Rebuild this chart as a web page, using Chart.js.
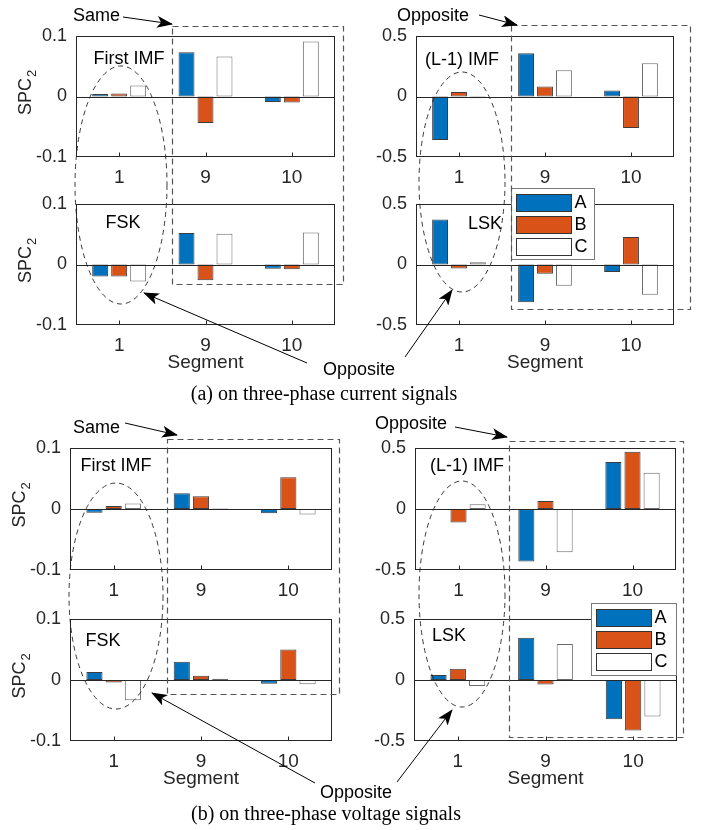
<!DOCTYPE html>
<html>
<head>
<meta charset="utf-8">
<script src="https://cdn.jsdelivr.net/npm/chart.js@4.4.1/dist/chart.umd.min.js"></script>
<style>
  body { margin: 0; background: #fff; }
  #page { position: relative; width: 704px; height: 830px; overflow: hidden; background: #fff; }
  #page canvas { position: absolute; }
  #notes { position: absolute; left: 0; top: 0; pointer-events: none; }
  #notes text { font-family: 'Liberation Sans', Arial, sans-serif; font-size: 18px; fill: #000; }
  #notes text.cap { font-family: 'Liberation Serif', 'Times New Roman', serif; font-size: 20px; }
</style>
</head>
<body>
<div id="page">
  <canvas id="c1"></canvas><canvas id="c2"></canvas>
  <canvas id="c3"></canvas><canvas id="c4"></canvas>
  <canvas id="c5"></canvas><canvas id="c6"></canvas>
  <canvas id="c7"></canvas><canvas id="c8"></canvas>
  <svg id="notes" width="704" height="830">
    <defs>
      <marker id="head" markerWidth="16" markerHeight="12" refX="15" refY="6" orient="auto" markerUnits="userSpaceOnUse">
        <path d="M0,0 L16,6 L0,12 L4,6 Z" fill="#000"/>
      </marker>
    </defs>
    <g fill="none">
      <!-- (a) current -->
      <rect x="172.5" y="26.5" width="171" height="258" stroke="#555" stroke-width="1.2" stroke-dasharray="6,4"/>
      <rect x="511.5" y="25.5" width="179" height="284" stroke="#555" stroke-width="1.2" stroke-dasharray="6,4"/>
      <ellipse cx="121" cy="185" rx="46" ry="119" stroke="#222" stroke-width="0.9" stroke-dasharray="5,4"/>
      <ellipse cx="462" cy="182" rx="43" ry="110" stroke="#222" stroke-width="0.9" stroke-dasharray="5,4"/>
      <line x1="123" y1="17" x2="172" y2="24" stroke="#000" stroke-width="1" marker-end="url(#head)"/>
      <line x1="479" y1="15" x2="517" y2="25" stroke="#000" stroke-width="1" marker-end="url(#head)"/>
      <line x1="307" y1="363" x2="144" y2="293" stroke="#000" stroke-width="1" marker-end="url(#head)"/>
      <line x1="405" y1="357" x2="452" y2="290" stroke="#000" stroke-width="1" marker-end="url(#head)"/>
      <!-- (b) voltage -->
      <rect x="167.5" y="439.5" width="172" height="255" stroke="#555" stroke-width="1.2" stroke-dasharray="6,4"/>
      <rect x="509.5" y="441.5" width="174" height="296" stroke="#555" stroke-width="1.2" stroke-dasharray="6,4"/>
      <ellipse cx="116" cy="596" rx="47" ry="113" stroke="#222" stroke-width="0.9" stroke-dasharray="5,4"/>
      <ellipse cx="462" cy="594" rx="43" ry="113" stroke="#222" stroke-width="0.9" stroke-dasharray="5,4"/>
      <line x1="125" y1="423" x2="177" y2="435" stroke="#000" stroke-width="1" marker-end="url(#head)"/>
      <line x1="455" y1="427" x2="507" y2="437" stroke="#000" stroke-width="1" marker-end="url(#head)"/>
      <line x1="315" y1="783" x2="152" y2="693" stroke="#000" stroke-width="1" marker-end="url(#head)"/>
      <line x1="397" y1="782" x2="452" y2="710" stroke="#000" stroke-width="1" marker-end="url(#head)"/>
    </g>
    <text x="73" y="21">Same</text>
    <text x="397" y="21">Opposite</text>
    <text x="323" y="375">Opposite</text>
    <text class="cap" x="324" y="400" text-anchor="middle">(a) on three-phase current signals</text>
    <text x="73" y="433">Same</text>
    <text x="375" y="429">Opposite</text>
    <text x="320" y="798">Opposite</text>
    <text class="cap" x="326" y="820" text-anchor="middle">(b) on three-phase voltage signals</text>
  </svg>
</div>
<script>
const segments = ['1', '9', '10'];
const phases = ['A', 'B', 'C'];
const smallTicks = [-0.1, 0, 0.1];
const largeTicks = [-0.5, 0, 0.5];

// (a) three-phase current
const curFirstA = [0.004, 0.073, -0.009];
const curFirstB = [0.005, -0.044, -0.010];
const curFirstC = [0.018, 0.066, 0.091];

const curL1A = [-0.360, 0.357, 0.049];
const curL1B = [0.038, 0.082, -0.261];
const curL1C = [-0.014, 0.217, 0.275];

const curFskA = [-0.020, 0.052, -0.007];
const curFskB = [-0.020, -0.026, -0.008];
const curFskC = [-0.028, 0.051, 0.053];

const curLskA = [0.372, -0.311, -0.063];
const curLskB = [-0.033, -0.077, 0.227];
const curLskC = [0.019, -0.175, -0.249];

// (b) three-phase voltage
const volFirstA = [-0.006, 0.026, -0.007];
const volFirstB = [0.005, 0.021, 0.052];
const volFirstC = [0.009, 0.001, -0.009];

const volL1A = [-0.004, -0.431, 0.385];
const volL1B = [-0.110, 0.066, 0.470];
const volL1C = [0.038, -0.354, 0.297];

const volFskA = [0.013, 0.030, -0.006];
const volFskB = [-0.004, 0.007, 0.050];
const volFskC = [-0.033, 0.002, -0.007];

const volLskA = [0.041, 0.347, -0.322];
const volLskB = [0.093, -0.036, -0.413];
const volLskC = [-0.049, 0.295, -0.300];

const fill = ['#0072BD', '#D95319', '#FFFFFF'];
const edge = ['#3c3c3c', '#3c3c3c', '#6a6a6a'];
const sans = "'Liberation Sans', Arial, sans-serif";
const ink = '#262626';

// left, top, width, height of each canvas; label offset from chart area
const panels = [
  { id: 'c1', box: [14, 16, 327, 176], series: [curFirstA, curFirstB, curFirstC], ticks: smallTicks, label: 'First IMF', lx: 53, ly: 23, ytitle: true },
  { id: 'c2', box: [354, 16, 326, 176], series: [curL1A, curL1B, curL1C], ticks: largeTicks, label: '(L-1) IMF', lx: 46, ly: 24 },
  { id: 'c3', box: [14, 184, 327, 190], series: [curFskA, curFskB, curFskC], ticks: smallTicks, label: 'FSK', lx: 47, ly: 19, ytitle: true, seg: true },
  { id: 'c4', box: [354, 184, 326, 190], series: [curLskA, curLskB, curLskC], ticks: largeTicks, label: 'LSK', lx: 69, ly: 20, seg: true, legend: [95, -16, 83, 71] },
  { id: 'c5', box: [8, 428, 330, 177], series: [volFirstA, volFirstB, volFirstC], ticks: smallTicks, label: 'First IMF', lx: 46, ly: 18, ytitle: true },
  { id: 'c6', box: [353, 428, 329, 177], series: [volL1A, volL1B, volL1C], ticks: largeTicks, label: '(L-1) IMF', lx: 52, ly: 18 },
  { id: 'c7', box: [8, 599, 330, 191], series: [volFskA, volFskB, volFskC], ticks: smallTicks, label: 'FSK', lx: 33, ly: 22, ytitle: true, seg: true },
  { id: 'c8', box: [352, 599, 331, 191], series: [volLskA, volLskB, volLskC], ticks: largeTicks, label: 'LSK', lx: 35, ly: 17, seg: true, legend: [177, -16, 85, 72] }
];

const decor = {
  id: 'decor',
  afterDatasetsDraw(chart, args, opts) {
    const { ctx, chartArea: a, scales } = chart;
    const l = Math.round(a.left) + 0.5, t = Math.round(a.top) + 0.5;
    const r = Math.round(a.right) - 0.5, b = Math.round(a.bottom) - 0.5;
    ctx.save();
    ctx.strokeStyle = ink;
    ctx.lineWidth = 1;
    // zero baseline
    const y0 = Math.round(scales.y.getPixelForValue(0)) + 0.5;
    ctx.beginPath(); ctx.moveTo(l, y0); ctx.lineTo(r, y0); ctx.stroke();
    ctx.strokeRect(l, t, r - l, b - t);
    // inner tick marks on the segment axis
    scales.x.ticks.forEach((tk, i) => {
      const x = Math.round(scales.x.getPixelForTick(i)) + 0.5;
      ctx.beginPath(); ctx.moveTo(x, b); ctx.lineTo(x, b - 4); ctx.stroke();
    });
    ctx.restore();
  },
  afterDraw(chart, args, opts) {
    const { ctx, chartArea: a } = chart;
    const p = opts.panel;
    ctx.save();
    ctx.fillStyle = '#000';
    ctx.font = '18px ' + sans;
    ctx.textAlign = 'center';
    ctx.textBaseline = 'middle';
    ctx.fillText(p.label, a.left + p.lx, a.top + p.ly);
    if (p.ytitle) {
      ctx.save();
      ctx.translate(a.left - 50, (a.top + a.bottom) / 2);
      ctx.rotate(-Math.PI / 2);
      ctx.fillStyle = ink;
      ctx.font = '18px ' + sans;
      ctx.fillText('SPC', 0, 0);
      const w = ctx.measureText('SPC').width;
      ctx.font = '13px ' + sans;
      ctx.textAlign = 'left';
      ctx.fillText('2', w / 2 + 1, 6);
      ctx.restore();
    }
    if (p.legend) {
      const [ox, oy, lw, lh] = p.legend;
      const x = Math.round(a.left + ox) + 0.5, y = Math.round(a.top + oy) + 0.5;
      ctx.fillStyle = '#fff';
      ctx.fillRect(x, y, lw, lh);
      ctx.strokeStyle = '#7a7a7a';
      ctx.lineWidth = 1;
      ctx.strokeRect(x, y, lw, lh);
      chart.data.datasets.forEach((ds, i) => {
        const ry = y + 6 + i * 22;
        ctx.fillStyle = ds.backgroundColor;
        ctx.fillRect(x + 5, ry, 55, 17);
        ctx.strokeStyle = '#333';
        ctx.strokeRect(x + 5, ry, 55, 17);
        ctx.fillStyle = '#000';
        ctx.font = '18px ' + sans;
        ctx.textAlign = 'left';
        ctx.textBaseline = 'middle';
        ctx.fillText(ds.label, x + 63, ry + 9);
      });
    }
    ctx.restore();
  }
};

panels.forEach(p => {
  const cv = document.getElementById(p.id);
  const [left, top, w, h] = p.box;
  cv.width = w; cv.height = h;
  cv.style.left = left + 'px'; cv.style.top = top + 'px';
  cv.style.width = w + 'px'; cv.style.height = h + 'px';

  new Chart(cv.getContext('2d'), {
    type: 'bar',
    data: {
      labels: segments,
      datasets: phases.map((ph, i) => ({
        label: ph,
        data: p.series[i],
        backgroundColor: fill[i],
        borderColor: edge[i],
        borderWidth: 1,
        borderSkipped: false,
        categoryPercentage: 0.66,
        barPercentage: 0.84
      }))
    },
    options: {
      responsive: false,
      animation: false,
      devicePixelRatio: 1,
      layout: { padding: { top: 20, right: 6, left: 0, bottom: 0 } },
      plugins: {
        legend: { display: false },
        tooltip: { enabled: false },
        decor: { panel: p }
      },
      scales: {
        x: {
          offset: true,
          grid: { display: false, drawTicks: false },
          border: { display: false },
          ticks: { color: ink, font: { size: 19, family: sans }, padding: 9, maxRotation: 0 },
          title: { display: !!p.seg, text: 'Segment', color: ink, font: { size: 19, family: sans }, padding: { top: 0, bottom: 0 } },
          afterFit: s => { s.height = p.seg ? 49 : 35; }
        },
        y: {
          min: p.ticks[0],
          max: p.ticks[p.ticks.length - 1],
          afterBuildTicks: s => { s.ticks = p.ticks.map(v => ({ value: v })); },
          grid: { display: false, drawTicks: false },
          border: { display: false },
          ticks: { color: ink, font: { size: 18, family: sans }, padding: 9, callback: v => String(v) },
          afterFit: s => { s.width = 62; }
        }
      }
    },
    plugins: [decor]
  });
});
</script>
</body>
</html>
